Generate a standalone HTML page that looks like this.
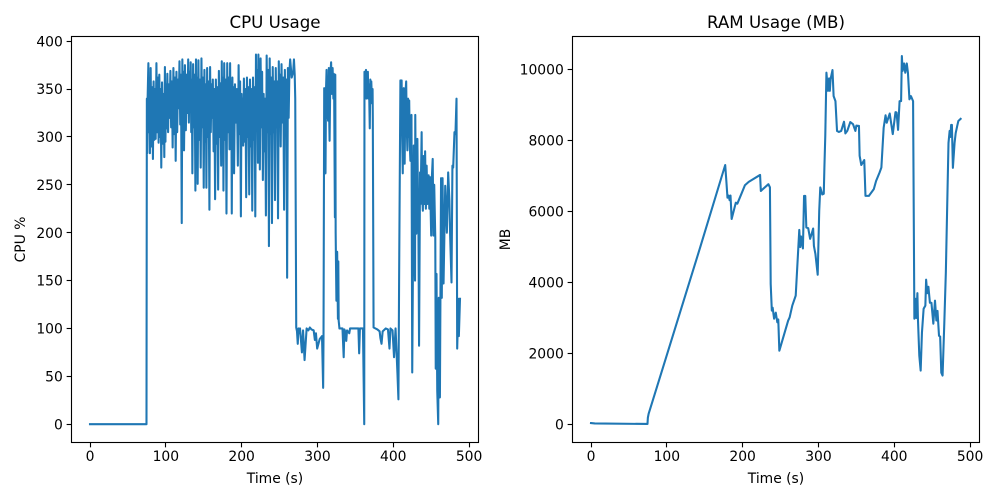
<!DOCTYPE html>
<html>
<head>
<meta charset="utf-8">
<title>CPU and RAM Usage</title>
<style>
html,body{margin:0;padding:0;background:#fff;}
svg{display:block;}
text{font-family:"DejaVu Sans","Liberation Sans",sans-serif;fill:#000;}
</style>
</head>
<body>
<svg id="figure" width="1000" height="500" viewBox="0 0 1000 500" xmlns="http://www.w3.org/2000/svg"></svg>
<script>
const sharedXTicks = [0, 100, 200, 300, 400, 500];
const cpuYTicks = [0, 50, 100, 150, 200, 250, 300, 350, 400];
const ramYTicks = [0, 2000, 4000, 6000, 8000, 10000];

const cpuTime = [
0,74.5,75,75.5,76,
77,77.7,78.3,
79,80,81,82,
83,83.9,84.8,85.7,
86.6,87.6,88.6,89.6,
90.5,91.4,92.3,93.2,
94,95,96,97,
98,98.8,99.5,100.3,
101,102,103,104,
105,106,107,108,
109,110,111,112,
113,114,115,116,
117,118,119,120,
121,121.8,122.5,123.3,
124,125.2,126.4,127.6,
128.6,129.5,130.4,131.2,
132,132.8,133.5,134.3,
135,136,137,138,
139,139.8,140.5,141.3,
142,143,144,145,
146,147,148,149,
150,150.9,151.8,152.7,
153.5,154.5,155.5,156.5,
157.5,158.4,159.3,160.2,
161,162,163,164,
165,166,167,168,
169,170,171,172,
173,173.8,174.5,175.3,
176,177,178,179,
180,181,182,183,
184,184.8,185.5,186.3,
187,187.8,188.5,189.3,
190,191.2,192.4,193.7,
195,196,197,198,
199,199.8,200.5,201.3,
202,203,204,205,
206,207,208,209,
210,211,212,213,
214,215,216,217,
218,218.9,219.8,220.7,
221.5,222.1,222.8,223.4,
224,225,226,227,
228,229,230,231,
232,233,234,235,
236,237,238,239,
240,241,242,243,
244,245,246,247,
248,249,250,250.8,
251.5,252.6,253.8,254.9,
256,257,258,259,
260,261,262,263,
264,266,268,269,270,
270.7,272,273,274,275,276,277,279.5,281,283,
285.7,288,290,292,295,296.6,298,299.6,303,306,
307.5,308,
308.9,309.7,310.6,311.3,312,312.7,313,314,315,315.5,
316,317,318,319,320,321,321.5,322,
323,323.5,324,325,326,327,327.5,328,
329,333,334.6,335.5,337,338,339,342,343,350,
354,355,356,360,361.7,
362,362.7,363,364,364.5,365,366,366.5,367,368,
369,369.7,370,371,372,372.7,373,
374,379,382,383,
384.5,386,390,393,395,396.3,399,401,403,405.5,
406.8,407.7,
409.4,410,411,411.7,412.5,413.2,413.8,414.4,415,416,
417,417.8,418.6,419.5,420.3,421,421.8,422.6,423.3,424,
425,427,427.8,428.7,429,429.8,430.4,431,431.8,432.5,
433.2,434,435.3,436,437.4,438,439,440,
440.5,441,442,443,444,445,446.6,447.5,
448.4,450,451,452,453,454,455.4,456,457,458,
459.3,460,461.5,463,464,465,466.3,468.5,470.7,472.4,
474,475,476.8,478,479,480.7,482,483.4,484.3,486,
486.5,488
];
const cpuPercent = [
0,0,340,283,340,
377,305,355,
283,372,290,352,
277,358,297,350,
298,377,305,362,
294,365,300,350,
268,357,293,345,
279,373,295,355,
309,366,305,355,
320,369,310,358,
289,372,303,362,
275,368,305,360,
330,379,313,365,
210,381,310,368,
286,375,307,365,
325,381,315,368,
340,378,305,360,
262,376,310,365,
244,381,305,362,
251,380,297,360,
268,382,310,362,
247,370,295,355,
247,372,300,358,
224,373,305,355,
320,360,285,350,
235,360,293,352,
245,369,300,356,
270,379,303,362,
244,377,297,360,
220,377,305,362,
287,377,300,358,
220,362,293,352,
262,355,315,350,
270,375,303,358,
217,345,293,340,
291,361,295,350,
237,362,300,352,
240,360,290,350,
223,362,297,352,
217,386,310,370,
273,386,315,372,
266,382,310,368,
255,345,285,340,
218,385,305,370,
186,382,303,362,
210,373,305,358,
234,372,310,358,
215,379,315,365,
290,376,315,362,
224,370,310,360,
153,372,320,368,
381,362,368,381,365,
340,101,97,84,100,95,100,75,98,67,
100,98,101,99,98,88,95,79,89,92,
38,92,
351,290,262,350,370,320,340,317,372,320,
296,365,378,345,372,340,366,350,
216,365,200,129,180,110,170,108,
100,100,70,99,96,87,98,95,100,100,
100,74,100,100,0,
368,345,362,370,340,365,345,368,340,355,
309,360,340,358,335,350,320,
101,99,97,90,
84,97,100,99,79,100,98,70,100,53,
26,153,
359,310,359,300,262,340,351,290,272,345,
358,310,286,340,300,338,290,275,320,323,
54,291,200,150,323,240,199,290,298,240,
200,82,263,230,305,240,223,280,
258,230,285,225,270,230,260,225,
258,197,260,277,197,250,195,58,157,35,
0,132,28,257,132,257,147,249,200,263,
234,197,148,270,268,305,303,340,79,131,
92,131
];

const ramTime = [
0,5,74.5,75,76,144,177,178.5,180,181.5,
182.8,184,185.5,191,193,199,203,208,223,224,
234,236,237,238.5,239.6,241.5,243.7,245.7,247,248.4,
260,262,265.5,270,274.7,276,277,279.5,281,282.6,
284,286.5,289,291,293,294,296,299,301,302.4,
305,307,307.8,309,310.5,312.6,314,315,316,318.5,
320,322.4,324.5,327,330,333.7,335.5,338,342,345.6,
348.7,350,353.4,354.3,356.5,360.4,362,366.5,373,376,
380.6,383,386,388.5,390,394,398,401.6,403,405,
407,409,410,411,413,414.5,416.5,418,420,422,
424.8,426.5,428,429,430.5,431.2,433,434.8,436.5,438.7,
441,442,443.5,445,447,449,451.5,453.7,455.5,457,
459,460.5,462,463.7,466,468,471.5,473,474,475,
476,477.3,479.5,481,483,484.5,487.5
];
const ramMegabytes = [
40,30,15,190,300,4990,7310,6860,6390,6450,
6320,6450,5790,6250,6220,6530,6740,6835,7030,6580,
6770,6680,3960,3210,3290,2980,3150,2880,2960,2080,
2925,3020,3350,3630,5480,5000,5300,4960,6440,6440,
5550,5530,5230,5370,5520,5030,4800,4220,6020,6680,
6480,6500,7210,8130,9910,9400,9750,9400,9730,9985,
9250,9110,8270,8240,8270,8530,8200,8270,8520,8460,
8270,8420,8410,7570,7310,7450,6440,6440,6630,6860,
7100,7240,8360,8710,8500,8760,8180,8800,8790,8300,
9110,9110,10380,9960,10170,9910,10170,9910,9160,9250,
9110,2980,3540,3000,3700,2980,1940,1520,2590,3260,
3350,4080,3700,3880,3430,3430,2840,3490,2930,3200,
2500,2480,1460,1380,2870,4280,7930,8270,8100,8440,
8440,7230,7930,8210,8410,8550,8610
];

const ns = 'http://www.w3.org/2000/svg';
const figure = document.getElementById('figure');

function make(tag, attrs, parent) {
  const el = document.createElementNS(ns, tag);
  for (const k in attrs) el.setAttribute(k, attrs[k]);
  parent.appendChild(el);
  return el;
}

function linearScale(d0, d1, r0, r1) {
  return function (v) { return r0 + (v - d0) * (r1 - r0) / (d1 - d0); };
}

function drawPanel(opts) {
  const L = opts.left, R = opts.left + 407, T = 36.5, B = 442.5;
  const xScale = linearScale(-24.4, 512.4, L, R);
  const yScale = linearScale(opts.yMin, opts.yMax, B, T);

  const panel = make('g', {}, figure);
  
  

  const series = make('polyline', {
    points: opts.xs.map(function (t, i) { return xScale(t).toFixed(2) + ',' + yScale(opts.ys[i]).toFixed(2); }).join(' '),
    fill: 'none', stroke: '#1f77b4', 'stroke-width': 2.08, 'stroke-linejoin': 'round', 'stroke-linecap': 'square'
  }, panel);
  
  

  const frame = make('rect', {
    x: L, y: T, width: R - L, height: B - T, fill: 'none', stroke: '#000', 'stroke-width': 1.11
  }, panel);
  
  

  sharedXTicks.forEach(function (tick) {
    const px = Math.round(xScale(tick) - 0.5) + 0.5;
    const mark = make('line', { x1: px, x2: px, y1: B, y2: B + 4.86, stroke: '#000', 'stroke-width': 1.11 }, panel);
    
    
    const label = make('text', { x: xScale(tick), y: 461, 'font-size': 13.89, 'text-anchor': 'middle' }, panel);
    
    
    label.textContent = String(tick);
  });

  opts.yTicks.forEach(function (tick) {
    const py = Math.round(yScale(tick) - 0.5) + 0.5;
    const mark = make('line', { x1: L - 4.86, x2: L, y1: py, y2: py, stroke: '#000', 'stroke-width': 1.11 }, panel);
    
    
    const label = make('text', { x: L - 8.7, y: yScale(tick) + 5.1, 'font-size': 13.89, 'text-anchor': 'end' }, panel);
    
    
    label.textContent = String(tick);
  });

  const title = make('text', { x: (L + R) / 2, y: 28, 'font-size': 16.67, 'text-anchor': 'middle' }, panel);
  
  
  title.textContent = opts.title;

  const xTitle = make('text', { x: (L + R) / 2, y: 483, 'font-size': 13.89, 'text-anchor': 'middle' }, panel);
  
  
  xTitle.textContent = 'Time (s)';

  const yTitle = make('text', {
    x: 0, y: 0, 'font-size': 13.89, 'text-anchor': 'middle',
    transform: 'translate(' + opts.yTitleX + ' ' + (T + B) / 2 + ') rotate(-90)'
  }, panel);
  
  
  yTitle.textContent = opts.yLabel;
}

drawPanel({
  id: 'cpu', title: 'CPU Usage', yLabel: 'CPU %', left: 71.5, yTitleX: 25,
  yMin: -19.1, yMax: 404.9, yTicks: cpuYTicks, xs: cpuTime, ys: cpuPercent
});
drawPanel({
  id: 'ram', title: 'RAM Usage (MB)', yLabel: 'MB', left: 572.5, yTitleX: 510,
  yMin: -507, yMax: 10930, yTicks: ramYTicks, xs: ramTime, ys: ramMegabytes
});
</script>
</body>
</html>
